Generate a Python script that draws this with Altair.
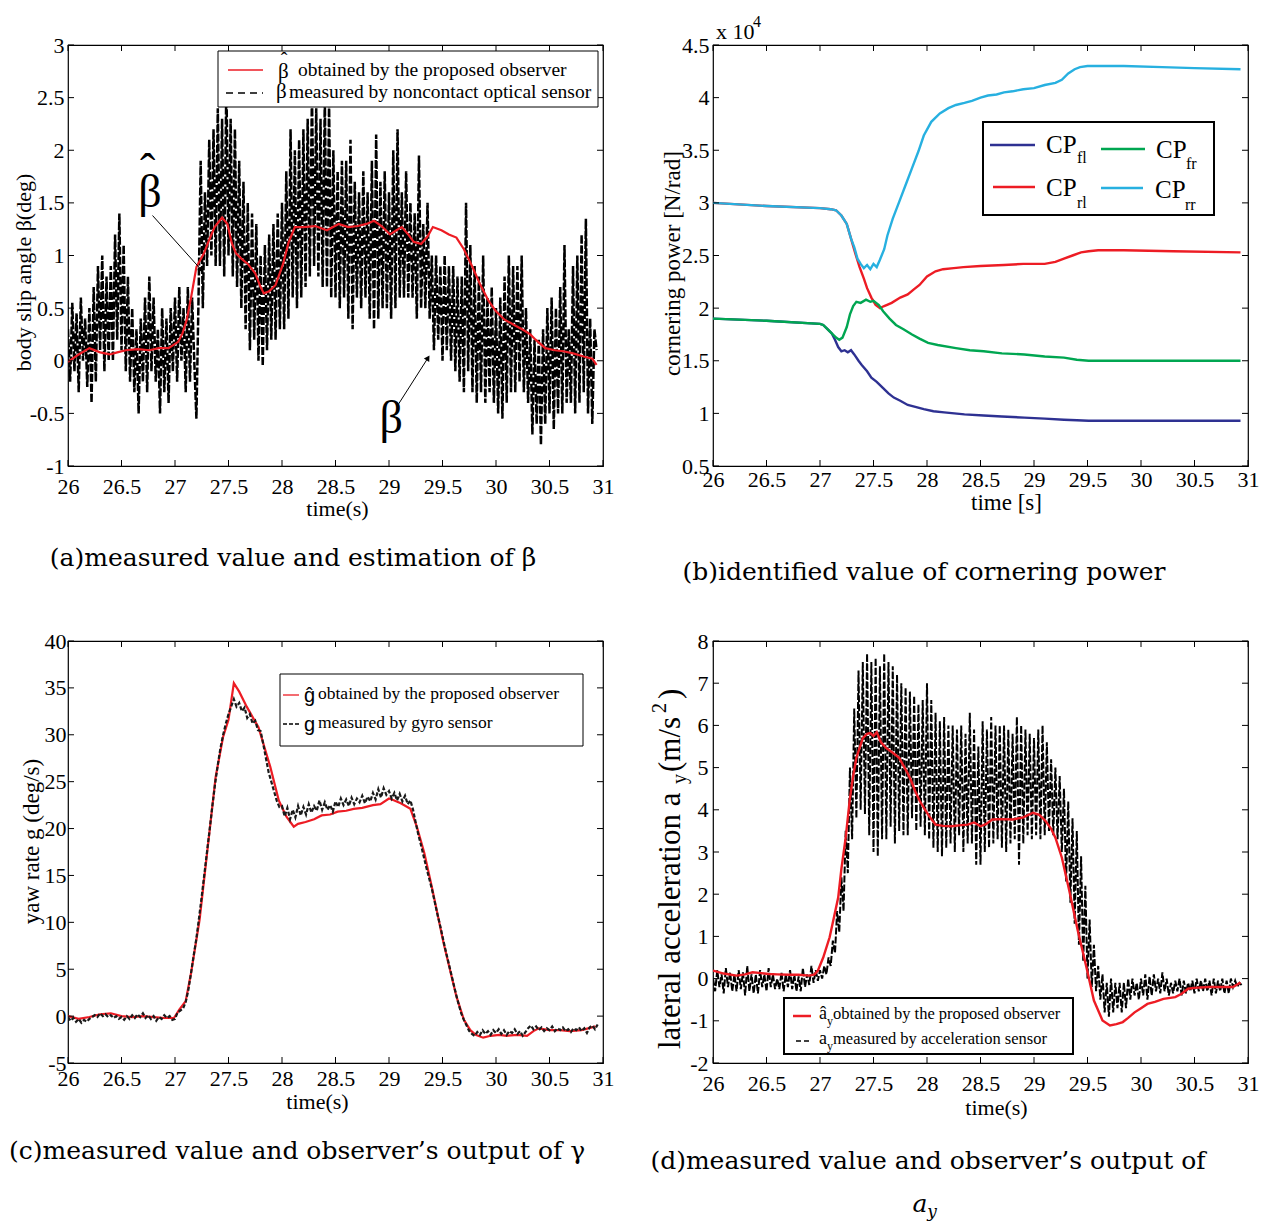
import altair as alt
import pandas as pd

SERIF = "Liberation Serif"
CAPF = "DejaVu Serif"
SANS = "Liberation Sans"
RED = "#ed1c24"
BLUE = "#2e3192"
GREEN = "#00a651"
CYAN = "#27b0e0"

# ---------------- axis tick values ----------------
X_TICKS = [26, 26.5, 27, 27.5, 28, 28.5, 29, 29.5, 30, 30.5, 31]
A_YTICKS = [-1, -0.5, 0, 0.5, 1, 1.5, 2, 2.5, 3]
B_YTICKS = [0.5, 1, 1.5, 2, 2.5, 3, 3.5, 4, 4.5]
C_YTICKS = [-5, 0, 5, 10, 15, 20, 25, 30, 35, 40]
D_YTICKS = [-2, -1, 0, 1, 2, 3, 4, 5, 6, 7, 8]

DT_FAST = 0.02    # sampling step of beta / a_y measurements (start 26.0 s)
DT_GYRO = 0.025   # sampling step of yaw-rate measurement (start 26.0 s)

# ---------------- (a) body slip angle ----------------
beta_meas = [
    0.3, -0.2, 0.55, -0.1, 0.45, -0.3, 0.6, 0.0, 0.4, -0.25,
    0.5, -0.4, 0.7, -0.2, 0.9, 0.1, 1.0, -0.1, 0.8, 0.0,
    0.9, 0.0, 1.2, 0.2, 1.4, 0.1, 1.1, -0.1, 0.8, -0.2,
    0.5, -0.3, 0.3, -0.5, 0.4, -0.2, 0.6, -0.3, 0.8, -0.1,
    0.6, -0.2, 0.3, -0.5, 0.5, -0.3, 0.4, -0.4, 0.5, -0.1,
    0.6, -0.2, 0.7, 0.0, 0.5, -0.3, 0.7, -0.2, 0.6, 0.0,
    -0.55, 0.6, 1.9, 0.5, 1.6, 0.9, 2.1, 1.0, 2.2, 0.9,
    2.4, 0.9, 2.3, 0.8, 2.65, 1.0, 2.3, 0.8, 2.2, 0.7,
    1.9, 0.5, 1.7, 0.3, 1.5, 0.1, 1.4, 0.2, 1.3, 0.0,
    1.0, -0.05, 1.1, 0.1, 1.2, 0.2, 1.3, 0.2, 1.4, 0.3,
    1.5, 0.3, 1.8, 0.4, 2.2, 0.6, 2.0, 0.5, 2.1, 0.6,
    2.2, 0.7, 2.3, 0.8, 2.55, 0.9, 2.4, 0.8, 2.3, 0.7,
    2.5, 0.7, 2.45, 0.6, 2.0, 0.6, 1.8, 0.5, 1.9, 0.6,
    1.9, 0.4, 2.1, 0.3, 1.7, 0.6, 1.6, 0.5, 1.8, 0.6,
    1.6, 0.4, 1.9, 0.3, 2.15, 0.4, 1.7, 0.5, 1.8, 0.5,
    1.6, 0.4, 2.0, 0.5, 2.2, 0.6, 1.6, 0.6, 1.8, 0.6,
    1.5, 0.6, 1.4, 0.4, 1.95, 0.5, 1.3, 0.5, 1.5, 0.4,
    1.0, 0.1, 1.0, 0.2, 0.9, 0.0, 1.0, 0.1, 0.9, 0.0,
    0.9, -0.1, 0.8, -0.2, 0.8, -0.3, 1.5, -0.1, 1.1, -0.3,
    0.9, -0.4, 0.8, -0.3, 1.0, -0.4, 0.6, -0.3, 0.7, -0.4,
    0.5, -0.5, 0.6, -0.55, 0.8, -0.4, 1.0, -0.3, 0.9, -0.3,
    0.9, -0.2, 1.0, -0.3, 0.5, -0.4, 0.3, -0.7, 0.2, -0.6,
    0.2, -0.8, 0.3, -0.6, 0.5, -0.5, 0.6, -0.65, 0.5, -0.5,
    0.7, -0.5, 1.1, -0.4, 0.3, -0.4, 0.9, -0.5, 1.0, -0.4,
    1.2, -0.3, 1.35, -0.5, 0.4, -0.6, 0.3, 0.1,
]
beta_hat_t = [26.0, 26.1, 26.2, 26.3, 26.39, 26.46, 26.54, 26.65, 26.76, 26.85,
              26.94, 27.03, 27.07, 27.11, 27.15, 27.2, 27.27, 27.32, 27.37, 27.44,
              27.49, 27.53, 27.57, 27.62, 27.68, 27.75, 27.8, 27.83, 27.88, 27.94,
              28.01, 28.06, 28.12, 28.2, 28.31, 28.42, 28.53, 28.62, 28.71, 28.79,
              28.86, 28.93, 29.01, 29.07, 29.12, 29.18, 29.23, 29.3, 29.36, 29.41,
              29.49, 29.56, 29.63, 29.7, 29.78, 29.85, 29.93, 30.0, 30.08, 30.17,
              30.26, 30.32, 30.37, 30.46, 30.55, 30.63, 30.72, 30.82, 30.9, 30.94]
beta_hat = [-0.01, 0.06, 0.12, 0.08, 0.06, 0.08, 0.1, 0.11, 0.1, 0.12,
            0.12, 0.18, 0.26, 0.39, 0.6, 0.89, 1.02, 1.15, 1.27, 1.36,
            1.30, 1.12, 1.02, 0.97, 0.92, 0.83, 0.7, 0.64, 0.66, 0.72,
            0.92, 1.12, 1.27, 1.27, 1.28, 1.24, 1.3, 1.27, 1.28, 1.3,
            1.33, 1.28, 1.2, 1.24, 1.27, 1.2, 1.13, 1.11, 1.18, 1.27,
            1.24, 1.2, 1.17, 1.06, 0.89, 0.73, 0.57, 0.47, 0.39, 0.34,
            0.29, 0.25, 0.2, 0.12, 0.1, 0.09, 0.07, 0.04, 0.02, -0.04]
# annotations (data coordinates): label position and arrow (start, end)
ANN_BHAT = (26.766, 1.59)
ANN_BHAT_HAT = (26.745, 1.79)
ARROW_BHAT = (26.79, 1.38, 27.24, 0.87)
ANN_BETA = (29.02, -0.553)
ARROW_BETA = (29.09, -0.41, 29.36, 0.02)

# ---------------- (b) cornering power (x 10^4 N/rad) ----------------
cp_rr_t = [26.0, 26.5, 27.0, 27.1, 27.15, 27.2, 27.25, 27.29, 27.32, 27.35,
           27.38, 27.41, 27.44, 27.47, 27.5, 27.53, 27.56, 27.6, 27.63, 27.68,
           27.74, 27.8, 27.86, 27.92, 27.97, 28.04, 28.12, 28.2, 28.27, 28.35,
           28.42, 28.5, 28.57, 28.65, 28.72, 28.8, 28.9, 29.0, 29.1, 29.2,
           29.26, 29.32, 29.38, 29.43, 29.5, 29.6, 29.84, 30.2, 30.5, 30.93]
cp_rr = [3.0, 2.97, 2.95, 2.94, 2.93, 2.88, 2.8, 2.66, 2.58, 2.47,
         2.42, 2.38, 2.41, 2.37, 2.42, 2.39, 2.46, 2.56, 2.69, 2.85,
         3.01, 3.17, 3.33, 3.49, 3.64, 3.77, 3.85, 3.9, 3.93, 3.95,
         3.97, 4.0, 4.02, 4.03, 4.05, 4.06, 4.08, 4.09, 4.12, 4.14,
         4.17, 4.23, 4.27, 4.29, 4.3, 4.3, 4.3, 4.29, 4.28, 4.27]
cp_rl_t = [26.0, 26.5, 27.0, 27.1, 27.15, 27.2, 27.25, 27.29, 27.33, 27.37,
           27.41, 27.44, 27.48, 27.52, 27.56, 27.6, 27.67, 27.75, 27.82, 27.88,
           27.93, 28.0, 28.08, 28.15, 28.25, 28.34, 28.5, 28.72, 28.9, 29.1,
           29.2, 29.28, 29.36, 29.44, 29.51, 29.6, 29.84, 30.3, 30.93]
cp_rl = [3.0, 2.97, 2.95, 2.94, 2.93, 2.88, 2.8, 2.66, 2.52, 2.39,
         2.28, 2.19, 2.1, 2.03, 2.0, 2.02, 2.05, 2.1, 2.13, 2.18,
         2.22, 2.3, 2.35, 2.37, 2.38, 2.39, 2.4, 2.41, 2.42, 2.42,
         2.44, 2.47, 2.5, 2.53, 2.54, 2.55, 2.55, 2.54, 2.53]
cp_fr_t = [26.0, 26.5, 27.0, 27.03, 27.07, 27.11, 27.15, 27.18, 27.21, 27.25,
           27.28, 27.31, 27.34, 27.38, 27.43, 27.47, 27.5, 27.55, 27.59, 27.65,
           27.71, 27.78, 27.86, 27.93, 28.01, 28.1, 28.27, 28.4, 28.53, 28.7,
           28.91, 29.1, 29.28, 29.4, 29.51, 29.7, 30.3, 30.93]
cp_fr = [1.9, 1.88, 1.85, 1.84, 1.8, 1.76, 1.72, 1.7, 1.72, 1.82,
         1.94, 2.02, 2.06, 2.05, 2.08, 2.06, 2.07, 2.03, 1.97, 1.9,
         1.84, 1.8, 1.75, 1.71, 1.67, 1.65, 1.62, 1.6, 1.59, 1.57,
         1.56, 1.54, 1.53, 1.51, 1.5, 1.5, 1.5, 1.5]
cp_fl_t = [26.0, 26.5, 27.0, 27.03, 27.07, 27.11, 27.14, 27.17, 27.2, 27.23,
           27.26, 27.29, 27.32, 27.36, 27.39, 27.44, 27.48, 27.53, 27.59, 27.64,
           27.69, 27.75, 27.82, 27.9, 27.97, 28.06, 28.16, 28.35, 28.53, 28.7,
           28.91, 29.1, 29.28, 29.4, 29.51, 29.7, 30.3, 30.93]
cp_fl = [1.9, 1.88, 1.85, 1.84, 1.8, 1.76, 1.7, 1.63, 1.59, 1.6,
         1.58, 1.6, 1.56, 1.5, 1.46, 1.4, 1.34, 1.3, 1.24, 1.19,
         1.15, 1.12, 1.08, 1.06, 1.04, 1.02, 1.01, 0.99, 0.98, 0.97,
         0.96, 0.95, 0.94, 0.935, 0.93, 0.93, 0.93, 0.93]

# ---------------- (c) yaw rate ----------------
gamma_meas = [
    -0.1, -0.5, -0.2, -0.6, -0.3, -0.7, -0.4, -0.6,
    -0.3, -0.1, 0.1, -0.1, 0.3, 0.0, 0.2, -0.1,
    0.1, -0.2, 0.0, -0.3, -0.1, -0.4, 0.0, -0.3,
    0.1, -0.2, 0.2, -0.1, 0.3, -0.2, 0.1, -0.3,
    0.0, -0.5, -0.1, -0.3, 0.1, -0.2, 0.0, -0.4,
    -0.3, 0.4, 0.6, 0.8, 1.5, 2.8, 4.6, 6.5,
    8.3, 10.5, 12.8, 15.2, 17.6, 20.0, 22.5, 24.8,
    26.8, 28.6, 30.0, 31.2, 32.2, 33.0, 33.8, 33.0,
    33.4, 32.5, 32.9, 31.8, 32.2, 31.2, 31.5, 30.5,
    30.4, 29.0, 27.5, 26.0, 25.0, 24.0, 23.0, 22.3,
    22.4, 21.3, 22.2, 21.0, 22.0, 21.2, 22.4, 21.4,
    22.3, 21.5, 22.6, 21.7, 22.4, 21.9, 23.0, 22.0,
    22.8, 22.0, 22.5, 21.8, 22.9, 22.3, 23.2, 22.5,
    23.1, 22.4, 23.3, 22.6, 23.2, 22.8, 23.5, 22.7,
    23.4, 22.9, 23.8, 23.1, 24.2, 23.3, 24.3, 23.6,
    24.0, 23.2, 23.8, 23.0, 23.7, 22.9, 23.5, 22.6,
    23.0, 22.0, 20.6, 19.3, 18.2, 17.0, 15.8, 14.7,
    13.6, 12.3, 11.0, 9.8, 8.5, 7.2, 6.0, 4.8,
    3.6, 2.4, 1.3, 0.3, -0.4, -1.0, -1.6, -1.9,
    -2.1, -1.7, -2.0, -1.5, -1.9, -1.6, -2.0, -1.5,
    -1.8, -1.4, -1.9, -1.5, -2.0, -1.6, -1.8, -1.4,
    -1.9, -1.6, -2.1, -1.7, -1.3, -1.0, -1.4, -1.1,
    -1.5, -1.2, -1.6, -1.3, -1.5, -1.1, -1.6, -1.3,
    -1.5, -1.2, -1.6, -1.4, -1.7, -1.3, -1.5, -1.2,
    -1.6, -1.3, -1.8, -1.2, -1.0, -1.4, -0.9,
]
gamma_hat_t = [26.0, 26.1, 26.2, 26.3, 26.4, 26.5, 26.6, 26.7, 26.8, 26.9,
               26.99, 27.04, 27.1, 27.15, 27.23, 27.3, 27.38, 27.45, 27.5, 27.55,
               27.6, 27.67, 27.78, 27.89, 27.97, 28.04, 28.11, 28.15, 28.22, 28.3,
               28.37, 28.45, 28.52, 28.6, 28.67, 28.75, 28.85, 28.92, 29.0, 29.05,
               29.11, 29.2, 29.26, 29.33, 29.4, 29.51, 29.63, 29.7, 29.76, 29.81,
               29.88, 29.95, 30.03, 30.1, 30.2, 30.29, 30.35, 30.4, 30.5, 30.6,
               30.69, 30.8, 30.93]
gamma_hat = [0.0, -0.3, -0.1, 0.2, 0.3, 0.0, -0.1, 0.0, -0.1, -0.2,
             -0.2, 0.7, 1.6, 4.6, 10.3, 17.4, 25.5, 29.8, 31.6, 35.5,
             34.6, 33.0, 30.8, 26.6, 23.0, 21.3, 20.2, 20.5, 20.7, 21.0,
             21.4, 21.5, 21.8, 21.9, 22.1, 22.2, 22.5, 22.6, 23.2, 23.0,
             22.7, 22.1, 20.2, 17.4, 13.8, 7.8, 2.1, -0.4, -1.5, -2.0,
             -2.3, -2.1, -2.0, -2.1, -2.0, -2.1, -1.6, -1.3, -1.5, -1.5,
             -1.6, -1.5, -1.1]

# ---------------- (d) lateral acceleration ----------------
ay_meas = [
    0.0, -0.3, 0.2, -0.2, 0.1, -0.35, 0.25, -0.2, 0.15, -0.3,
    0.1, -0.3, 0.2, -0.25, 0.15, -0.4, 0.3, -0.3, 0.1, -0.35,
    0.1, -0.35, 0.2, -0.2, 0.1, -0.3, 0.25, -0.2, 0.1, -0.25,
    0.0, -0.25, 0.15, -0.3, 0.1, -0.2, 0.2, -0.25, 0.1, -0.3,
    0.05, -0.3, 0.25, -0.2, 0.1, -0.15, 0.3, -0.1, 0.2, -0.05,
    0.2, 0.0, 0.3, 0.1, 0.5, 0.3, 0.9, 0.6, 1.6, 1.1,
    2.4, 1.6, 3.5, 2.5, 5.0, 3.3, 6.4, 3.8, 7.3, 4.0,
    7.5, 3.9, 7.7, 3.4, 7.5, 3.0, 7.6, 2.9, 7.4, 3.3,
    7.7, 3.3, 7.5, 3.6, 7.4, 3.2, 7.2, 3.5, 7.0, 3.4,
    6.9, 3.4, 6.8, 3.8, 6.7, 3.5, 6.5, 3.6, 6.6, 3.4,
    7.0, 3.3, 6.6, 3.1, 6.3, 3.0, 6.1, 2.9, 6.2, 3.1,
    6.0, 3.2, 6.0, 3.0, 5.9, 3.4, 6.0, 3.0, 5.8, 3.2,
    6.3, 3.2, 5.9, 2.7, 5.5, 2.7, 6.1, 3.0, 5.9, 3.1,
    6.2, 3.2, 6.0, 3.3, 6.0, 3.1, 6.0, 3.0, 5.9, 3.2,
    5.8, 3.3, 6.2, 2.7, 6.0, 3.2, 5.9, 3.4, 5.8, 3.3,
    5.7, 3.4, 5.9, 3.3, 6.0, 3.4, 5.6, 3.5, 5.2, 3.4,
    5.0, 3.3, 4.8, 3.0, 4.5, 2.3, 4.2, 1.8, 3.8, 1.3,
    3.5, 0.8, 2.9, 0.4, 2.2, 0.0, 1.4, -0.2, 0.8, -0.3,
    0.3, -0.5, 0.1, -0.8, -0.1, -0.9, 0.0, -0.8, -0.1, -0.7,
    -0.1, -0.8, -0.1, -0.7, 0.0, -0.5, 0.0, -0.4, -0.1, -0.5,
    0.0, -0.4, 0.1, -0.5, 0.05, -0.4, 0.1, -0.3, 0.0, -0.35,
    0.15, -0.3, 0.0, -0.4, -0.1, -0.35, -0.05, -0.3, 0.0, -0.4,
    -0.05, -0.35, -0.1, -0.3, -0.05, -0.35, 0.0, -0.3, -0.05, -0.3,
    0.0, -0.3, -0.05, -0.4, 0.0, -0.35, -0.05, -0.3, 0.0, -0.35,
    -0.05, -0.35, 0.0, -0.2, -0.05, -0.2, -0.1, -0.15,
]
ay_hat_t = [26.0, 26.1, 26.22, 26.3, 26.37, 26.45, 26.52, 26.6, 26.71, 26.8,
            26.9, 26.95, 26.98, 27.03, 27.09, 27.13, 27.17, 27.2, 27.24, 27.28,
            27.31, 27.34, 27.4, 27.44, 27.47, 27.5, 27.53, 27.57, 27.62, 27.68,
            27.74, 27.81, 27.85, 27.89, 27.93, 27.97, 28.02, 28.08, 28.15, 28.23,
            28.3, 28.38, 28.44, 28.5, 28.55, 28.61, 28.7, 28.8, 28.9, 28.99,
            29.05, 29.11, 29.16, 29.2, 29.26, 29.33, 29.41, 29.49, 29.56, 29.64,
            29.71, 29.77, 29.83, 29.88, 29.94, 30.0, 30.06, 30.13, 30.21, 30.32,
            30.38, 30.44, 30.5, 30.63, 30.75, 30.86, 30.93]
ay_hat = [0.19, 0.12, 0.07, 0.1, 0.15, 0.13, 0.11, 0.1, 0.09, 0.09,
          0.07, 0.1, 0.19, 0.5, 0.98, 1.45, 1.92, 2.6, 3.34, 4.28,
          4.8, 5.23, 5.7, 5.8, 5.82, 5.75, 5.84, 5.6, 5.46, 5.35,
          5.23, 4.91, 4.7, 4.44, 4.22, 4.05, 3.85, 3.65, 3.62, 3.61,
          3.63, 3.65, 3.7, 3.61, 3.66, 3.77, 3.78, 3.77, 3.82, 3.93,
          3.88, 3.73, 3.55, 3.34, 2.87, 2.08, 1.13, 0.27, -0.52, -0.99,
          -1.11, -1.08, -1.03, -0.93, -0.8, -0.7, -0.6, -0.55, -0.48, -0.44,
          -0.36, -0.24, -0.22, -0.2, -0.2, -0.2, -0.09]

CAPTION_A = "(a)measured value and estimation of β"
CAPTION_B = "(b)identified value of cornering power"
CAPTION_C = "(c)measured value and observer’s output of γ"
CAPTION_D = "(d)measured value and observer’s output of"

# ---------------- helpers ----------------
W = 535
H1 = 421
H2 = 422
CAP_SIZE = 25
ONE = pd.DataFrame({"k": [0]})
XS = alt.Scale(domain=[26, 31], nice=False, zero=False)


def sample_times(vals, dt):
    return [round(26.0 + dt * i, 4) for i in range(len(vals))]


def xaxis(title, tx, ty, pad, tsize=22):
    return alt.Axis(values=X_TICKS, labelExpr="'' + datum.value", labelFlush=False,
                    labelOverlap=False, labelPadding=pad, tickSize=0, title=title,
                    titleFontSize=tsize, titleX=tx, titleY=ty, titleAlign="center",
                    titleBaseline="middle", titleAngle=0)


def yaxis(title, ticks, tx, ty, tsize, pad):
    return alt.Axis(values=ticks, labelExpr="'' + datum.value", labelOverlap=False,
                    labelPadding=pad, tickSize=0, title=title, titleFontSize=tsize,
                    titleX=tx, titleY=ty, titleAngle=270, titleAlign="center",
                    titleBaseline="middle")


def line(t, v, X, Y, color, width, dash=None):
    kw = dict(color=color, strokeWidth=width, clip=True)
    if dash:
        kw["strokeDash"] = dash
    return alt.Chart(pd.DataFrame({"t": t, "v": v})).mark_line(**kw).encode(x=X, y=Y)


def frame_ticks(X, Y, yticks, Wd, Ht, L=6):
    dx = pd.DataFrame({"t": X_TICKS})
    dy = pd.DataFrame({"v": yticks})
    r = dict(color="black", strokeWidth=1)
    return [
        alt.Chart(dx).mark_rule(**r).encode(x=X, y=alt.value(0), y2=alt.value(L)),
        alt.Chart(dx).mark_rule(**r).encode(x=X, y=alt.value(Ht), y2=alt.value(Ht - L)),
        alt.Chart(dy).mark_rule(**r).encode(y=Y, x=alt.value(0), x2=alt.value(L)),
        alt.Chart(dy).mark_rule(**r).encode(y=Y, x=alt.value(Wd), x2=alt.value(Wd - L)),
    ]


def label(s, x, y, size, font=SERIF, align="left", baseline="middle", angle=None, style=None):
    kw = dict(font=font, fontSize=size, align=align, baseline=baseline, color="black")
    if angle is not None:
        kw["angle"] = angle
    if style is not None:
        kw["fontStyle"] = style
    return alt.Chart(ONE).mark_text(**kw).encode(x=alt.value(x), y=alt.value(y), text=alt.value(s))


def seg(x1, x2, y1, y2, color="black", width=1.0, dash=None):
    kw = dict(color=color, strokeWidth=width)
    if dash:
        kw["strokeDash"] = dash
    return alt.Chart(ONE).mark_rule(**kw).encode(x=alt.value(x1), x2=alt.value(x2),
                                                 y=alt.value(y1), y2=alt.value(y2))


def box(x1, x2, y1, y2, width=1.0):
    return alt.Chart(ONE).mark_rect(fill="white", stroke="black", strokeWidth=width).encode(
        x=alt.value(x1), x2=alt.value(x2), y=alt.value(y1), y2=alt.value(y2))


def data_text(s, pos, X, Y, size):
    df = pd.DataFrame({"t": [pos[0]], "v": [pos[1]]})
    return alt.Chart(df).mark_text(font=SERIF, fontSize=size, align="center",
                                   baseline="middle", color="black").encode(x=X, y=Y, text=alt.value(s))


def arrow(a, ang, X, Y):
    df = pd.DataFrame({"t": [a[0]], "v": [a[1]], "t2": [a[2]], "v2": [a[3]]})
    shaft = alt.Chart(df).mark_rule(color="black", strokeWidth=1).encode(
        x=X, y=Y, x2="t2:Q", y2="v2:Q")
    head = alt.Chart(pd.DataFrame({"t": [a[2]], "v": [a[3]]})).mark_point(
        shape="triangle", filled=True, color="black", opacity=1, size=40, angle=ang).encode(x=X, y=Y)
    return [shaft, head]


# ---------------- panel (a) ----------------
XA = alt.X("t:Q", scale=XS, axis=xaxis("time(s)", 269, 42, 10))
YA = alt.Y("v:Q", scale=alt.Scale(domain=[-1, 3], nice=False, zero=False),
           axis=yaxis("body slip angle β(deg)", A_YTICKS, -45, 227, 22, 4))
panel_a = alt.layer(
    line(sample_times(beta_meas, DT_FAST), beta_meas, XA, YA, "black", 2.5, [8, 2]),
    line(beta_hat_t, beta_hat, XA, YA, RED, 2.2),
    *frame_ticks(XA, YA, A_YTICKS, W, H1),
    box(150, 530, 6, 62),
    seg(160, 195, 25, 25, RED, 1.3),
    label("ˆ", 216, 16, 20, align="center"),
    label("β", 210, 27, 21),
    label("obtained by the proposed observer", 230, 24.5, 19.5),
    seg(158, 195, 48, 48, "black", 1.5, [7, 5]),
    label("β", 208, 47, 21),
    label("measured by noncontact optical sensor", 221, 46.5, 19.5),
    data_text("β", ANN_BHAT, XA, YA, 46),
    data_text("ˆ", ANN_BHAT_HAT, XA, YA, 46),
    *arrow(ARROW_BHAT, 138, XA, YA),
    data_text("β", ANN_BETA, XA, YA, 46),
    *arrow(ARROW_BETA, 32.5, XA, YA),
    label(CAPTION_A, 225, 513, CAP_SIZE, font=CAPF, align="center"),
).properties(width=W, height=H1)

# ---------------- panel (b) ----------------
XB = alt.X("t:Q", scale=XS, axis=xaxis("time [s]", 293, 36, 3, 23))
YB = alt.Y("v:Q", scale=alt.Scale(domain=[0.5, 4.5], nice=False, zero=False),
           axis=yaxis("cornering power [N/rad]", B_YTICKS, -41, 218, 23, 4))
panel_b = alt.layer(
    line(cp_fl_t, cp_fl, XB, YB, BLUE, 2.4),
    line(cp_rl_t, cp_rl, XB, YB, RED, 2.4),
    line(cp_fr_t, cp_fr, XB, YB, GREEN, 2.4),
    line(cp_rr_t, cp_rr, XB, YB, CYAN, 2.4),
    *frame_ticks(XB, YB, B_YTICKS, W, H1),
    box(270, 501, 77, 170, 2),
    seg(277, 322, 100, 100, BLUE, 2.5),
    label("CP", 333, 99.5, 25), label("fl", 364, 113, 16),
    seg(388, 432, 104, 104, GREEN, 2.5),
    label("CP", 443, 104.5, 25), label("fr", 473, 119, 16),
    seg(280, 322, 142, 142, RED, 2.5),
    label("CP", 333, 142.5, 25), label("rl", 364, 157.5, 16),
    seg(388, 430, 143, 143, CYAN, 2.5),
    label("CP", 442, 144.5, 25), label("rr", 472, 159.5, 16),
    label("x 10", 3, -13, 22),
    label("4", 40, -31, 16, baseline="top"),
    label(CAPTION_B, 211, 527, CAP_SIZE, font=CAPF, align="center"),
).properties(width=W, height=H1)

# ---------------- panel (c) ----------------
XC = alt.X("t:Q", scale=XS, axis=xaxis("time(s)", 249, 38, 5))
YC = alt.Y("v:Q", scale=alt.Scale(domain=[-5, 40], nice=False, zero=False),
           axis=yaxis("yaw rate g (deg/s)", C_YTICKS, -37, 200, 23, 2))
panel_c = alt.layer(
    line(gamma_hat_t, gamma_hat, XC, YC, RED, 2.2),
    line(sample_times(gamma_meas, DT_GYRO), gamma_meas, XC, YC, "#1a1a1a", 2.2, [4, 2]),
    *frame_ticks(XC, YC, C_YTICKS, W, H2),
    box(212, 515, 33, 105),
    seg(215, 231, 54, 54, RED, 1.3),
    label("ĝ", 236, 55, 20, font=SANS),
    label("obtained by the proposed observer", 250, 53, 17.5),
    seg(215, 233, 83, 83, "black", 1.5, [4, 2]),
    label("g", 236, 84, 20, font=SANS),
    label("measured by  gyro sensor", 250, 82, 17.5),
    label(CAPTION_C, -59, 510, CAP_SIZE, font=CAPF, align="left"),
).properties(width=W, height=H2)

# ---------------- panel (d) ----------------
XD = alt.X("t:Q", scale=XS, axis=xaxis("time(s)", 283, 44, 10))
YD = alt.Y("v:Q", scale=alt.Scale(domain=[-2, 8], nice=False, zero=False),
           axis=yaxis("", D_YTICKS, 0, 0, 22, 5))
panel_d = alt.layer(
    line(sample_times(ay_meas, DT_FAST), ay_meas, XD, YD, "black", 2.0, [7, 2]),
    line(ay_hat_t, ay_hat, XD, YD, RED, 2.4),
    *frame_ticks(XD, YD, D_YTICKS, W, H2),
    box(71, 360, 357, 413, 2),
    seg(80, 98, 375, 375, RED, 2.5),
    label("â", 106, 373, 18),
    label("y", 114, 380, 12),
    label("obtained by the proposed observer", 120, 373, 16.5),
    seg(83, 98, 400, 400, "black", 1.5, [5, 3]),
    label("a", 106, 398, 18),
    label("y", 114, 405, 12),
    label("measured by acceleration sensor", 120, 398, 16.5),
    # y-axis title with sub/superscripts
    label("lateral acceleration  a", -33, 408, 31, baseline="alphabetic", angle=270),
    label("y", -27, 143, 20, baseline="alphabetic", angle=270),
    label("(m/s", -33, 131, 31, baseline="alphabetic", angle=270),
    label("2", -47, 72, 20, baseline="alphabetic", angle=270),
    label(")", -33, 58, 31, baseline="alphabetic", angle=270),
    label(CAPTION_D, 215, 520, CAP_SIZE, font=CAPF, align="center"),
    label("a", 207, 563, 25, font=CAPF, align="center", style="italic"),
    label("y", 219, 571, 17, font=CAPF, align="center", style="italic"),
).properties(width=W, height=H2)

chart = alt.concat(
    panel_a, panel_b, panel_c, panel_d,
    columns=2, spacing={"row": 175, "column": 110}, bounds="flush",
).properties(
    padding={"left": 0, "top": 5, "right": 5, "bottom": 0},
    background="white",
).configure_view(
    stroke="black", strokeWidth=1.2
).configure_axis(
    grid=False, domain=False, ticks=False,
    labelFont=SERIF, labelFontSize=22, labelColor="black",
    titleFont=SERIF, titleColor="black", titleFontWeight="normal",
)

chart.save("out.html", embed_options={"renderer": "svg", "actions": False})
